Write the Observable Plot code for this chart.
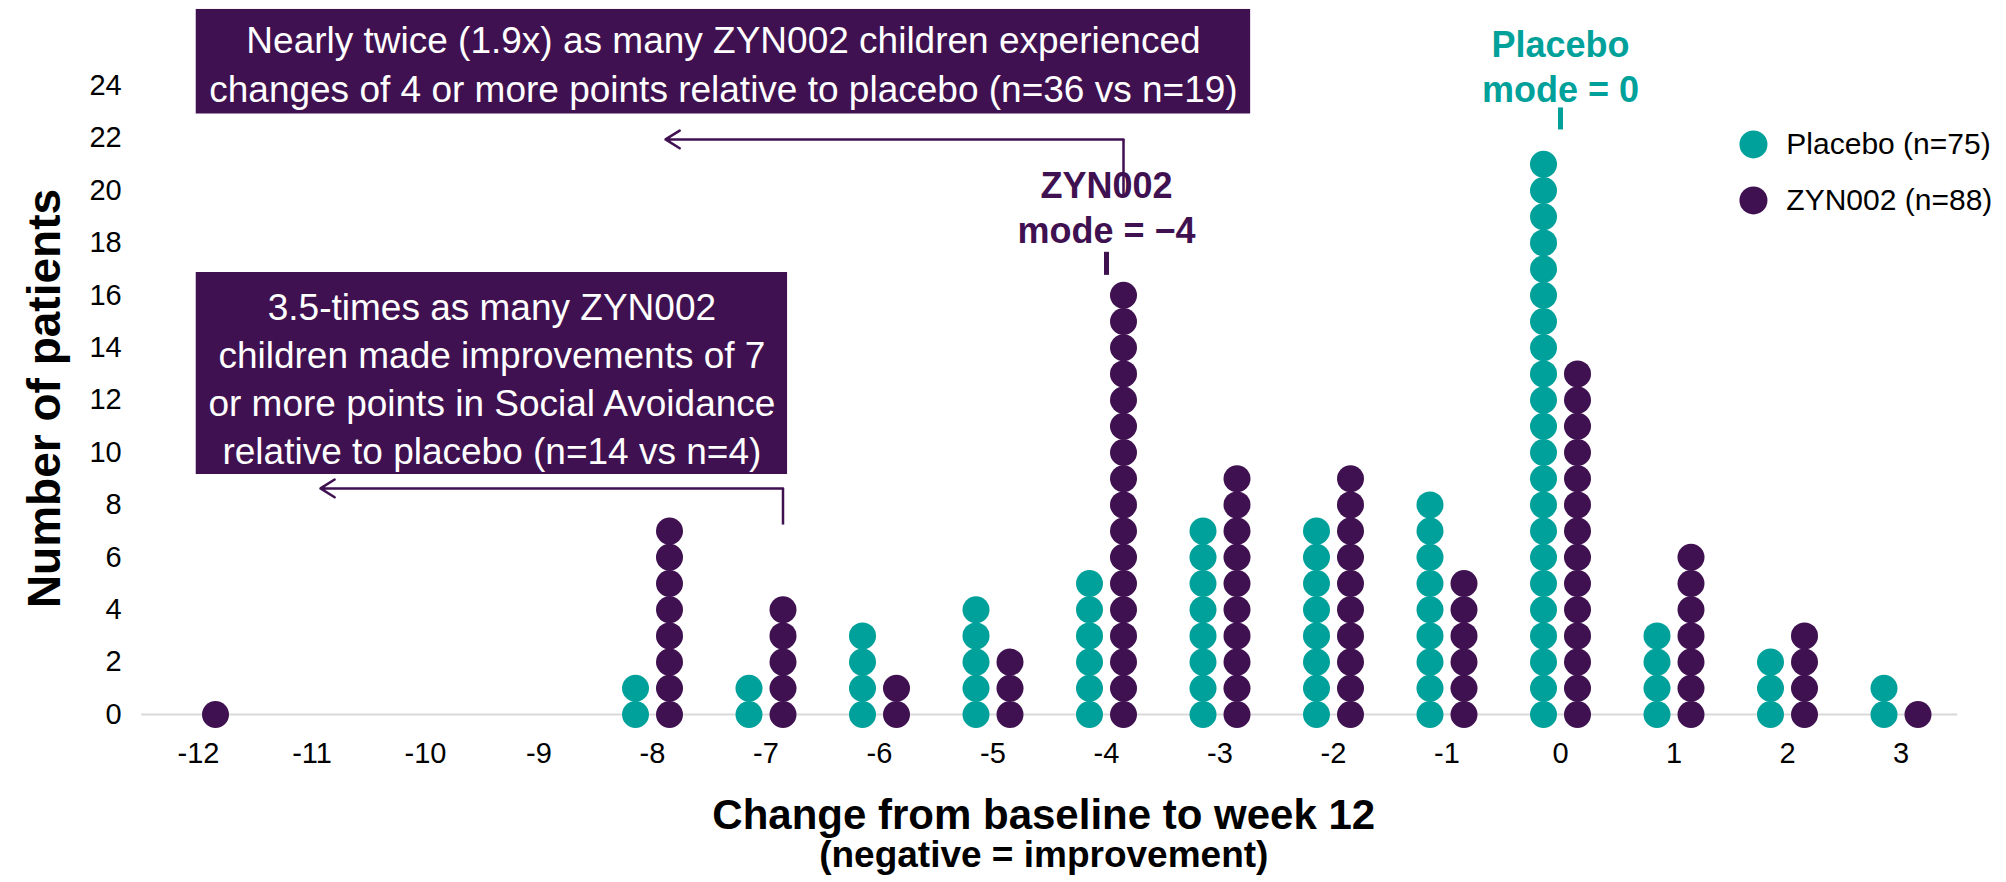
<!DOCTYPE html>
<html><head><meta charset="utf-8">
<script src="https://cdn.jsdelivr.net/npm/d3@7"></script>
<script src="https://cdn.jsdelivr.net/npm/@observablehq/plot@0.6"></script>
<style>html,body{margin:0;padding:0;background:#fff;}</style>
</head><body><div id="chart"></div>
<script>
// ---- data ----
const changes = [-12, -11, -10, -9, -8, -7, -6, -5, -4, -3, -2, -1, 0, 1, 2, 3];
const placeboCounts = [0, 0, 0, 0, 2, 2, 4, 5, 6, 8, 8, 9, 22, 4, 3, 2];
const zyn002Counts  = [1, 0, 0, 0, 8, 5, 2, 3, 17, 10, 10, 6, 14, 7, 4, 1];
const groups = ["Placebo (n=75)", "ZYN002 (n=88)"];
const groupColors = ["#00A19A", "#3F1151"];
const xTicks = [-12, -11, -10, -9, -8, -7, -6, -5, -4, -3, -2, -1, 0, 1, 2, 3];
const yTicks = [0, 2, 4, 6, 8, 10, 12, 14, 16, 18, 20, 22, 24];
const xTitle = "Change from baseline to week 12";
const xSubtitle = "(negative = improvement)";
const yTitle = "Number of patients";

// annotation boxes (data units)
const boxTexts = [
  "Nearly twice (1.9x) as many ZYN002 children experienced\nchanges of 4 or more points relative to placebo (n=36 vs n=19)",
  "3.5-times as many ZYN002\nchildren made improvements of 7\nor more points in Social Avoidance\nrelative to placebo (n=14 vs n=4)"
];
const boxX1 = [-12.02, -12.02];
const boxX2 = [-2.73, -6.81];
const boxY1 = [22.92, 9.16];
const boxY2 = [26.91, 16.87];
const boxTextY = [24.9, 12.9];

// elbow arrows: vertical from (fromX, fromY) up to arrowY, then left to tipX
const arrowFromX = [-4, -7];
const arrowFromY = [19.81, 7.25];
const arrowY = [21.95, 8.63];
const arrowTipX = [-8.035, -11.075];

// mode labels
const modeTexts = ["ZYN002\nmode = \u22124", "Placebo\nmode = 0"];
const modeX = [-4, 0];
const modeGroup = [1, 0];
const modeLabelY = [17.98, 23.36];
const modeTickY1 = [16.78, 22.33];
const modeTickY2 = [17.66, 23.17];

// legend
const legendX = 1.70;
const legendTextX = 1.99;
const legendY = [21.76, 19.62];

// axis titles position (data units)
const yTitleX = -13.35;
const yTitleY = 12.06;

// ---- build ----
const purple = groupColors[1];
const stackDots = (counts, group) =>
  changes.flatMap((c, k) => d3.range(counts[k]).map(i => ({change: c, level: i, group})));
const placeboDots = stackDots(placeboCounts, groups[0]);
const zynDots = stackDots(zyn002Counts, groups[1]);

const boxes = boxTexts.map((t, i) => ({text: t, x1: boxX1[i], x2: boxX2[i], y1: boxY1[i], y2: boxY2[i], ty: boxTextY[i]}));
const arrows = arrowFromX.map((x, i) => ({x, y0: arrowFromY[i], y: arrowY[i], tip: arrowTipX[i]}));
const modes = modeTexts.map((t, i) => ({text: t, x: modeX[i], g: modeGroup[i], ly: modeLabelY[i], t1: modeTickY1[i], t2: modeTickY2[i]}));
const legend = groups.map((g, i) => ({g, y: legendY[i]}));

const font = "'Liberation Sans', Arial, Helvetica, sans-serif";

const chart = Plot.plot({
  width: 2006,
  height: 882,
  marginLeft: 141.25,
  marginRight: 48.75,
  marginTop: 6.6,
  marginBottom: 168,
  x: {domain: [-12.5, 3.5]},
  y: {domain: [0, 27]},
  color: {domain: groups, range: groupColors},
  style: {fontFamily: font, background: "white", color: "black", overflow: "visible"},
  marks: [
    Plot.ruleY([0], {stroke: "#d9d9d9", strokeWidth: 2}),
    Plot.axisX({ticks: xTicks, tickSize: 0, tickPadding: 28, fontSize: 29, tickFormat: d => String(d), label: null}),
    Plot.axisY({ticks: yTicks, tickSize: 0, tickPadding: 20, fontSize: 29, label: null}),
    Plot.dot(placeboDots, {x: "change", y: "level", dx: -17, r: 13.5, fill: "group"}),
    Plot.dot(zynDots, {x: "change", y: "level", dx: 17, r: 13.5, fill: "group"}),
    // annotation boxes
    Plot.rect(boxes, {x1: "x1", x2: "x2", y1: "y1", y2: "y2", fill: purple}),
    Plot.text(boxes, {x: d => (d.x1 + d.x2) / 2, y: "ty", text: "text",
      fill: "white", fontSize: 37, lineHeight: 1.3, lineAnchor: "middle"}),
    // elbow arrows
    Plot.link(arrows, {x1: "x", x2: "x", y1: "y0", y2: "y", dx: 17, stroke: purple, strokeWidth: 2.5}),
    Plot.arrow(arrows, {x1: "x", x2: "tip", y1: "y", y2: "y", dx: 17, stroke: purple, strokeWidth: 2.5,
      headLength: 10, headAngle: 64}),
    // mode labels
    Plot.link(modes, {x1: "x", x2: "x", y1: "t1", y2: "t2", stroke: d => groupColors[d.g], strokeWidth: 5}),
    Plot.text(modes, {x: "x", y: "ly", text: "text", fill: d => groupColors[d.g], fontSize: 36, fontWeight: "bold",
      lineHeight: 1.25, lineAnchor: "bottom"}),
    // legend
    Plot.dot(legend, {x: legendX, y: "y", r: 14, fill: "g"}),
    Plot.text(legend, {x: legendTextX, y: "y", text: "g", textAnchor: "start", fontSize: 30, fill: "black", lineAnchor: "middle"}),
    // titles
    Plot.text([xTitle], {frameAnchor: "bottom", dx: -6, dy: 101, lineAnchor: "middle", fontSize: 42, fontWeight: "bold", fill: "black"}),
    Plot.text([xSubtitle], {frameAnchor: "bottom", dx: -6, dy: 141, lineAnchor: "middle", fontSize: 37, fontWeight: "bold", fill: "black"}),
    Plot.text([yTitle], {x: yTitleX, y: yTitleY, rotate: -90, lineAnchor: "middle", fontSize: 46, fontWeight: "bold", fill: "black"})
  ]
});
document.getElementById("chart").appendChild(chart);
</script>
</body></html>
